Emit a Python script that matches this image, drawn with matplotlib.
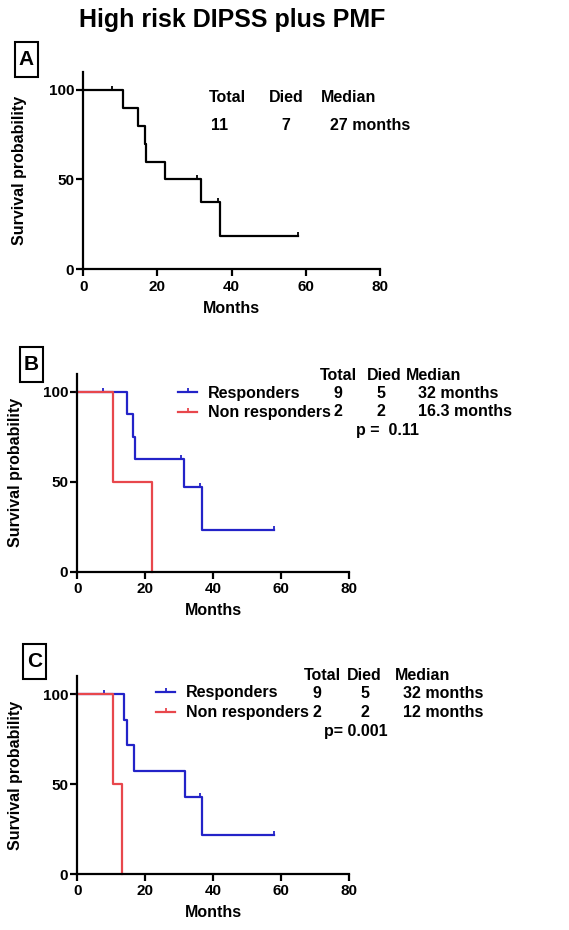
import matplotlib.pyplot as plt
from matplotlib.lines import Line2D
from matplotlib.markers import MarkerStyle
from matplotlib.path import Path
from matplotlib.patches import Rectangle

plt.rcParams['font.family'] = ['Liberation Sans', 'DejaVu Sans']
plt.rcParams['font.weight'] = 'bold'

# panel A: all high risk patients (step curve + censor marks)
a_t = [0, 10.8, 14.8, 16.6, 17.0, 22.0, 31.7, 36.9, 58.0]
a_s = [100, 90, 80, 70, 60, 50, 37.5, 18.75, 18.75]
a_cens_t = [7.8, 30.6, 36.4, 58.0]
a_cens_s = [100, 50, 37.5, 18.75]

# panel B
b_resp_t = [0, 14.7, 16.5, 17.0, 31.4, 36.9, 58.0]
b_resp_s = [100, 87.5, 75, 62.5, 46.875, 23.44, 23.44]
b_resp_cens_t = [7.7, 30.5, 36.2, 58.0]
b_resp_cens_s = [100, 62.5, 46.875, 23.44]
b_non_t = [0, 10.6, 22.0]
b_non_s = [100, 50, 0]

# panel C
c_resp_t = [0, 13.9, 14.7, 16.6, 31.6, 36.9, 58.0]
c_resp_s = [100, 85.7, 71.4, 57.1, 42.9, 21.4, 21.4]
c_resp_cens_t = [7.9, 36.2, 58.0]
c_resp_cens_s = [100, 42.9, 21.4]
c_non_t = [0, 10.6, 13.3]
c_non_s = [100, 50, 0]

BLUE = '#2323c8'
RED = '#e8474c'
W, H = 569, 930

tick_up = MarkerStyle(Path([(0, 0), (0, 1)], [Path.MOVETO, Path.LINETO]))


def fx(px):
    return px / W


def fy(py):
    return 1 - py / H


def style_axes(ax):
    ax.set_xlim(0, 80)
    ax.set_ylim(0, 110)
    ax.set_xticks([0, 20, 40, 60, 80])
    ax.set_yticks([0, 50, 100])
    for s in ['top', 'right']:
        ax.spines[s].set_visible(False)
    for s in ['left', 'bottom']:
        ax.spines[s].set_linewidth(1.6)
    ax.tick_params(width=1.6, length=5, labelsize=11, pad=2.5)
    ax.tick_params(axis='y', pad=1.5)
    ax.set_xlabel('Months', fontsize=11.5, fontweight='bold', labelpad=5)
    ax.set_ylabel('Survival probability', fontsize=11.5, fontweight='bold', labelpad=14)


def km(ax, t, s, ct, cs, color):
    ax.step(t, s, where='post', color=color, lw=1.6, clip_on=False)
    if ct:
        ax.plot(ct, cs, ls='none', marker=tick_up, ms=6, mew=1.3, color=color, clip_on=False)


def panel_label(cx, cy, letter):
    fig.patches.append(Rectangle((fx(cx - 11.5), fy(cy + 17.5)), 23 / W, 35 / H,
                                 transform=fig.transFigure, fc='white', ec='black', lw=1.5))
    fig.text(fx(cx), fy(cy), letter, fontsize=15, fontweight='bold', ha='center', va='center')


fig = plt.figure(figsize=(W / 100, H / 100), dpi=100)

fig.text(fx(232), fy(20), 'High risk DIPSS plus PMF', fontsize=18, fontweight='bold',
         ha='center', va='center')

# ---- A
axA = fig.add_axes([fx(83.3), fy(269.3), fx(380) - fx(83.3), fy(71.7) - fy(269.3)])
km(axA, a_t, a_s, a_cens_t, a_cens_s, 'black')
style_axes(axA)
axA.yaxis.labelpad = 15.5
panel_label(26.5, 59.5, 'A')
for x, txt in [(227, 'Total'), (286, 'Died'), (349, 'Median')]:
    fig.text(fx(x), fy(98), txt, fontsize=11.5, ha='center', va='center')
for x, txt in [(220, '11'), (286, '7'), (370, '27 months')]:
    fig.text(fx(x), fy(126), txt, fontsize=11.5, ha='center', va='center')

# ---- B
axB = fig.add_axes([fx(77.3), fy(571.7), fx(348.7) - fx(77.3), fy(374) - fy(571.7)])
km(axB, b_resp_t, b_resp_s, b_resp_cens_t, b_resp_cens_s, BLUE)
km(axB, b_non_t, b_non_s, [], [], RED)
style_axes(axB)
panel_label(31, 364.5, 'B')

# ---- C
axC = fig.add_axes([fx(77.3), fy(874), fx(348.7) - fx(77.3), fy(676) - fy(874)])
km(axC, c_resp_t, c_resp_s, c_resp_cens_t, c_resp_cens_s, BLUE)
km(axC, c_non_t, c_non_s, [], [], RED)
style_axes(axC)
panel_label(34.5, 661.5, 'C')

# legends
for ax, lx, ly in [(axB, fx(178), fy(385.5)), (axC, fx(156), fy(685.5))]:
    handles = [Line2D([], [], color=BLUE, lw=1.6, marker=tick_up, ms=6, mew=1.3),
               Line2D([], [], color=RED, lw=1.6, marker=tick_up, ms=6, mew=1.3)]
    ax.legend(handles, ['Responders', 'Non responders'], loc='upper left',
              bbox_to_anchor=(lx, ly), bbox_transform=fig.transFigure, frameon=False,
              prop={'size': 11.5, 'weight': 'bold'}, handlelength=1.2, handletextpad=0.65,
              labelspacing=0.3, borderaxespad=0, borderpad=0)

# B table
for x, txt in [(338, 'Total'), (384, 'Died'), (434, 'Median')]:
    fig.text(fx(x), fy(375), txt, fontsize=11.5, ha='center', va='center')
for x, txt in [(338, '9'), (381, '5'), (458, '32 months')]:
    fig.text(fx(x), fy(393), txt, fontsize=11.5, ha='center', va='center')
for x, txt in [(338, '2'), (381, '2'), (465, '16.3 months')]:
    fig.text(fx(x), fy(412), txt, fontsize=11.5, ha='center', va='center')
fig.text(fx(387), fy(431), 'p =  0.11', fontsize=11.5, ha='center', va='center')

# C table
for x, txt in [(322, 'Total'), (364, 'Died'), (423, 'Median')]:
    fig.text(fx(x), fy(675), txt, fontsize=11.5, ha='center', va='center')
for x, txt in [(317, '9'), (365, '5'), (443, '32 months')]:
    fig.text(fx(x), fy(694), txt, fontsize=11.5, ha='center', va='center')
for x, txt in [(317, '2'), (365, '2'), (443, '12 months')]:
    fig.text(fx(x), fy(712), txt, fontsize=11.5, ha='center', va='center')
fig.text(fx(356), fy(731), 'p= 0.001', fontsize=11.5, ha='center', va='center')

fig.savefig('out.png', dpi=100)
